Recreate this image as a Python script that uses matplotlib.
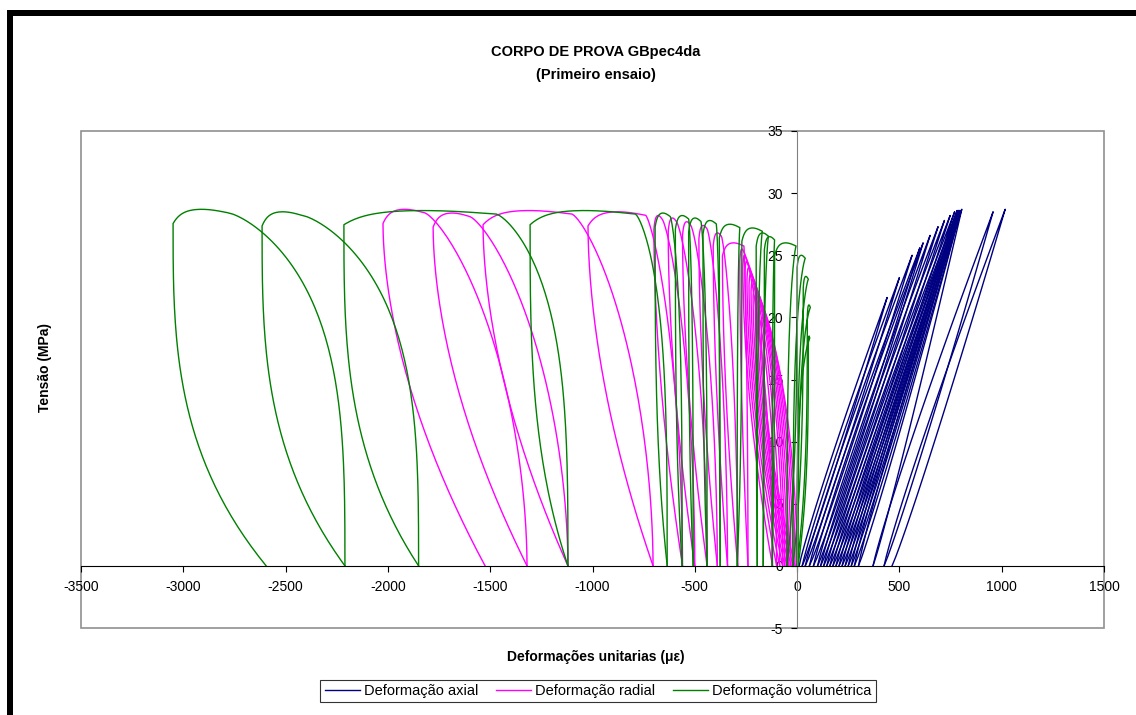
import numpy as np
import matplotlib.pyplot as plt
from matplotlib.patches import Rectangle

plt.rcParams['font.family'] = ['Liberation Sans', 'DejaVu Sans']
plt.rcParams['axes.unicode_minus'] = False

# ---- data (strain in microstrain, stress in MPa) ----
# volumetric loops: left extent, left foot, right-leg top, right foot, peak stress
vol_m = [-3050, -2615, -2215, -1305, -694, -595, -530, -460, -380, -270, -200, -160, -110, 0, 30, 50, 55]
vol_L = [-2595, -2210, -1850, -1120, -635, -562, -508, -440, -376, -293, -195, -166, -122, -49, -20, 0, 5]
vol_xt = [-2780, -2420, -1470, -790, -620, -530, -470, -395, -280, -170, -140, -110, -5, 40, 55, 65, 62]
vol_R = [-2210, -1850, -1120, -635, -562, -508, -440, -376, -293, -195, -166, -122, -49, -20, 0, 5, 0]
vol_s = [28.7, 28.5, 28.6, 28.6, 28.4, 28.2, 28.0, 27.8, 27.5, 27.2, 26.8, 26.5, 26.0, 25.0, 23.3, 21.0, 18.5]

# radial loops
rad_m = [-2024, -1779, -1535, -1022, -700, -630, -560, -480, -410, -365,
         -280, -265, -255, -245, -235, -225, -215, -205, -195, -185, -175]
rad_L = [-1525, -1320, -1120, -704, -560, -500, -440, -390, -340, -290,
         -240, -120, -100, -85, -70, -60, -50, -40, -30, -20, -10]
rad_xt = [-1820, -1600, -1100, -740, -660, -590, -520, -440, -370, -260,
          -260, -250, -240, -230, -220, -210, -200, -190, -180, -170, -160]
rad_R = [-1320, -1120, -704, -560, -500, -440, -390, -340, -290, -240,
         -120, -100, -85, -70, -60, -50, -40, -30, -20, -10, 0]
rad_s = [28.7, 28.4, 28.6, 28.5, 28.2, 28.0, 27.7, 27.4, 26.8, 26.0,
         25.5, 25.0, 24.5, 24.0, 23.5, 23.0, 22.5, 22.0, 21.5, 21.0, 20.0]

# axial loops: loading foot, peak strain, peak stress, unloading foot
ax_f0 = [10, 25, 40, 60, 80, 100, 115, 130, 145, 160, 175, 190, 205, 220, 235, 250, 265, 280, 300, 371, 425]
ax_p = [440, 500, 562, 600, 616, 650, 689, 720, 748, 770, 782, 785, 790, 790, 795, 795, 800, 800, 805, 958, 1017]
ax_s = [21.6, 23.2, 25.0, 25.6, 26.0, 26.6, 27.3, 27.8, 28.2, 28.5, 28.6, 28.6, 28.6, 28.6, 28.6, 28.6, 28.6,
        28.6, 28.7, 28.5, 28.7]
ax_f1 = [25, 40, 60, 80, 100, 115, 130, 145, 160, 175, 190, 205, 220, 235, 250, 265, 280, 300, 371, 425, 464]

x_ticks = list(range(-3500, 1501, 500))
y_ticks = list(range(-5, 36, 5))


def loop_xy(R, xt, m, L, s, p, q, n=70):
    # right leg (loading), top (creep at peak), left leg (unloading)
    t = np.linspace(0, 1, n)
    x1 = R + (xt - R) * t ** p
    y1 = 0.99 * s * (1 - (1 - t) ** 1.3)
    u = np.linspace(0, 1, n)
    x2 = xt + (m - xt) * u
    y2 = s * (0.99 + 0.01 * np.sin(np.pi * u) - 0.03 * u ** 8)
    r = np.linspace(0.96, 0, n)
    x3 = m + (L - m) * (1 - r / 0.96) ** q
    y3 = s * r
    return np.concatenate([x1, x2, x3]), np.concatenate([y1, y2, y3])


def leaf_xy(f0, P, S, f1, n=40):
    t = np.linspace(0, 1, n)
    xu = f0 + (P - f0) * t ** 1.1
    xd = f1 + (P - f1) * t[::-1] ** 0.93
    return np.concatenate([xu, xd]), np.concatenate([S * t, S * t[::-1]])


fig = plt.figure(figsize=(11.36, 7.15), dpi=100)
ax = fig.add_axes([81 / 1136, 1 - 628 / 715, 1023 / 1136, 497 / 715])

c_ax, c_rad, c_vol = '#000080', '#FF00FF', '#008000'

for i in range(len(ax_f0)):
    x, y = leaf_xy(ax_f0[i], ax_p[i], ax_s[i], ax_f1[i])
    ax.plot(x, y, color=c_ax, lw=1.0, label='Deformação axial' if i == 0 else None)
for i in range(len(rad_m)):
    x, y = loop_xy(rad_R[i], rad_xt[i], rad_m[i], rad_L[i], rad_s[i], 1.8, 1.8)
    ax.plot(x, y, color=c_rad, lw=1.0, label='Deformação radial' if i == 0 else None)
for i in range(len(vol_m)):
    x, y = loop_xy(vol_R[i], vol_xt[i], vol_m[i], vol_L[i], vol_s[i], 3.0, 3.0)
    ax.plot(x, y, color=c_vol, lw=1.0, label='Deformação volumétrica' if i == 0 else None)

ax.set_xlim(-3500, 1500)
ax.set_ylim(-5, 35)
ax.set_xticks(x_ticks)
ax.set_yticks(y_ticks)
ax.tick_params(labelsize=10, length=4, width=0.8, pad=6)

ax.spines['top'].set_visible(False)
ax.spines['right'].set_visible(False)
ax.spines['left'].set_position(('data', 0))
ax.spines['bottom'].set_position(('data', 0))
ax.spines['left'].set_color('#808080')
ax.spines['bottom'].set_color('black')
ax.add_patch(Rectangle((0, 0), 1, 1, transform=ax.transAxes, fill=False,
                       edgecolor='#909090', lw=1.2, clip_on=False))

fig.text(596 / 1136, 1 - 52 / 715, 'CORPO DE PROVA GBpec4da', ha='center', va='center',
         fontsize=10.5, fontweight='bold')
fig.text(596 / 1136, 1 - 75 / 715, '(Primeiro ensaio)', ha='center', va='center',
         fontsize=10.5, fontweight='bold')
fig.text(45 / 1136, 1 - 368 / 715, 'Tensão (MPa)', ha='center', va='center', rotation=90,
         fontsize=10, fontweight='bold')
fig.text(596 / 1136, 1 - 657 / 715, 'Deformações unitarias (με)', ha='center', va='center',
         fontsize=10, fontweight='bold')

leg = fig.legend(loc='center', bbox_to_anchor=(598 / 1136, 1 - 691 / 715), ncol=3,
                 fontsize=10.5, frameon=True, fancybox=False, edgecolor='black',
                 handlelength=2.4, handletextpad=0.3, columnspacing=1.2,
                 borderpad=0.3)
leg.get_frame().set_linewidth(0.8)

# thick black frame on top and left of the picture
fig.add_artist(Rectangle((7 / 1136, 1 - 16 / 715), 1, 6 / 715, transform=fig.transFigure,
                         color='black', lw=0))
fig.add_artist(Rectangle((7 / 1136, 0), 6 / 1136, 1 - 10 / 715, transform=fig.transFigure,
                         color='black', lw=0))

fig.savefig('out.png', dpi=100)
